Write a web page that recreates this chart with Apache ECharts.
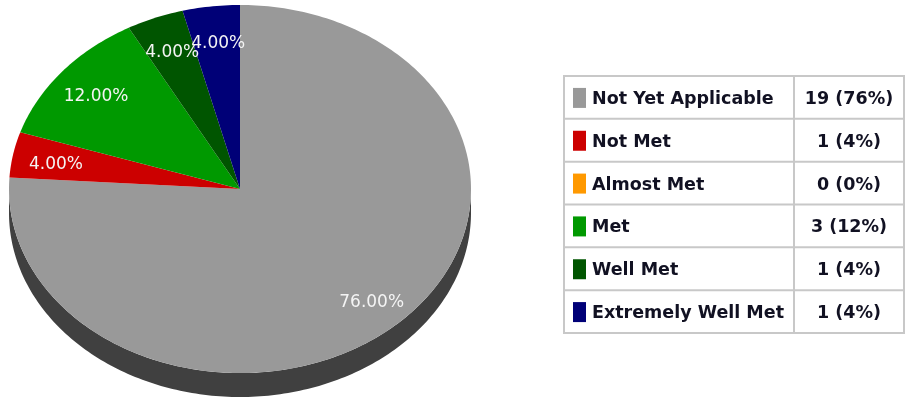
<!DOCTYPE html>
<html>
<head>
<meta charset="utf-8">
<title>Rating distribution</title>
<script src="https://cdn.jsdelivr.net/npm/echarts@6.0.0/dist/echarts.min.js"></script>
<style>
  html, body { margin: 0; padding: 0; background: #ffffff; }
  #chart { width: 905px; height: 399px; }
</style>
</head>
<body>
<div id="chart"></div>
<script>
// Rating categories, counts and their colours
const categories = ['Not Yet Applicable', 'Not Met', 'Almost Met', 'Met', 'Well Met', 'Extremely Well Met'];
const counts = [19, 1, 0, 3, 1, 1];
const colors = ['#999999', '#cc0000', '#ff9900', '#009900', '#005500', '#000077'];
const sideColors = ['#404040', '#5a0000', '#7a4a00', '#004400', '#002200', '#000033'];

const total = counts.reduce((a, b) => a + b, 0);

// Tilted pie geometry (in axis units: the ellipse is the unit circle)
const DEPTH = 0.13;          // thickness of the pie wall
const LABEL_R = 0.82;        // where slice labels sit, as a fraction of the radius
const LABEL_NUDGE = [2, 4];  // small pixel offset of the label text
const deg = Math.PI / 180;

// Start / end angles of each slice: clockwise from 12 o'clock
const slices = [];
let acc = 0;
counts.forEach((c, i) => {
  const a0 = 90 - 360 * acc / total;
  acc += c;
  const a1 = 90 - 360 * acc / total;
  slices.push({ value: [a0, a1, i] });
});

function arcPoints(api, from, to, dy) {
  const pts = [];
  const n = Math.max(2, Math.ceil(Math.abs(to - from)));
  for (let k = 0; k <= n; k++) {
    const a = (from + (to - from) * k / n) * deg;
    pts.push(api.coord([Math.cos(a), Math.sin(a) - dy]));
  }
  return pts;
}

// Wall: only the part of each slice lying in the lower half (angles -180..0)
function renderSide(params, api) {
  const a0 = api.value(0), a1 = api.value(1), i = api.value(2);
  if (a0 === a1) return;
  const children = [];
  for (const shift of [0, -360, 360]) {
    const h = Math.min(a0 + shift, 0), l = Math.max(a1 + shift, -180);
    if (h > l) {
      const top = arcPoints(api, h, l, 0);
      const bottom = arcPoints(api, l, h, DEPTH);
      children.push({
        type: 'polygon',
        shape: { points: top.concat(bottom) },
        style: { fill: sideColors[i] }
      });
    }
  }
  return { type: 'group', children };
}

function renderTop(params, api) {
  const a0 = api.value(0), a1 = api.value(1), i = api.value(2);
  if (a0 === a1) return;
  const pts = [api.coord([0, 0])].concat(arcPoints(api, a0, a1, 0));
  const mid = (a0 + a1) / 2 * deg;
  const lp = api.coord([LABEL_R * Math.cos(mid), LABEL_R * Math.sin(mid)]);
  const pct = (counts[i] / total * 100).toFixed(2) + '%';
  return {
    type: 'group',
    children: [
      { type: 'polygon', shape: { points: pts }, style: { fill: colors[i] } },
      {
        type: 'text', z2: 10,
        style: {
          text: pct, x: lp[0] + LABEL_NUDGE[0], y: lp[1] + LABEL_NUDGE[1],
          fill: '#f4f4f4', font: '17px "DejaVu Sans"',
          align: 'center', verticalAlign: 'middle'
        }
      }
    ]
  };
}

// Legend table
const TABLE = { left: 564, top: 76, right: 904, bottom: 333, divider: 794 };
const rowH = (TABLE.bottom - TABLE.top) / categories.length;
const lineColor = '#c8c8c8';
const tableFont = 'bold 17.5px "DejaVu Sans"';
const tableEls = [];
tableEls.push({
  type: 'rect', shape: { x: TABLE.left, y: TABLE.top, width: TABLE.right - TABLE.left, height: TABLE.bottom - TABLE.top },
  style: { fill: '#ffffff', stroke: lineColor, lineWidth: 2 }
});
tableEls.push({
  type: 'line', shape: { x1: TABLE.divider, y1: TABLE.top, x2: TABLE.divider, y2: TABLE.bottom },
  style: { stroke: lineColor, lineWidth: 2 }
});
categories.forEach((name, i) => {
  const y0 = TABLE.top + rowH * i;
  const cy = y0 + rowH / 2;
  if (i > 0) {
    tableEls.push({
      type: 'line', shape: { x1: TABLE.left, y1: y0, x2: TABLE.right, y2: y0 },
      style: { stroke: lineColor, lineWidth: 2 }
    });
  }
  tableEls.push({
    type: 'rect', shape: { x: 573, y: cy - 9.5, width: 13, height: 20 },
    style: { fill: colors[i] }
  });
  tableEls.push({
    type: 'text',
    style: {
      text: name, x: 592, y: cy + 2, fill: '#111122',
      font: tableFont, align: 'left', verticalAlign: 'middle'
    }
  });
  const share = Math.round(counts[i] / total * 100);
  tableEls.push({
    type: 'text',
    style: {
      text: counts[i] + ' (' + share + '%)', x: (TABLE.divider + TABLE.right) / 2, y: cy + 2,
      fill: '#111122', font: tableFont, align: 'center', verticalAlign: 'middle'
    }
  });
});

const chart = echarts.init(document.getElementById('chart'), null, { renderer: 'canvas' });
chart.setOption({
  animation: false,
  backgroundColor: '#ffffff',
  grid: { left: 9, top: 5, width: 462, height: 392 },
  xAxis: { type: 'value', min: -1, max: 1, show: false },
  yAxis: { type: 'value', min: -1 - DEPTH, max: 1, show: false },
  graphic: { elements: tableEls },
  series: [
    { type: 'custom', name: 'wall', coordinateSystem: 'cartesian2d', renderItem: renderSide, data: slices, silent: true },
    { type: 'custom', name: 'ratings', coordinateSystem: 'cartesian2d', renderItem: renderTop, data: slices, z: 3 }
  ]
});
</script>
</body>
</html>
